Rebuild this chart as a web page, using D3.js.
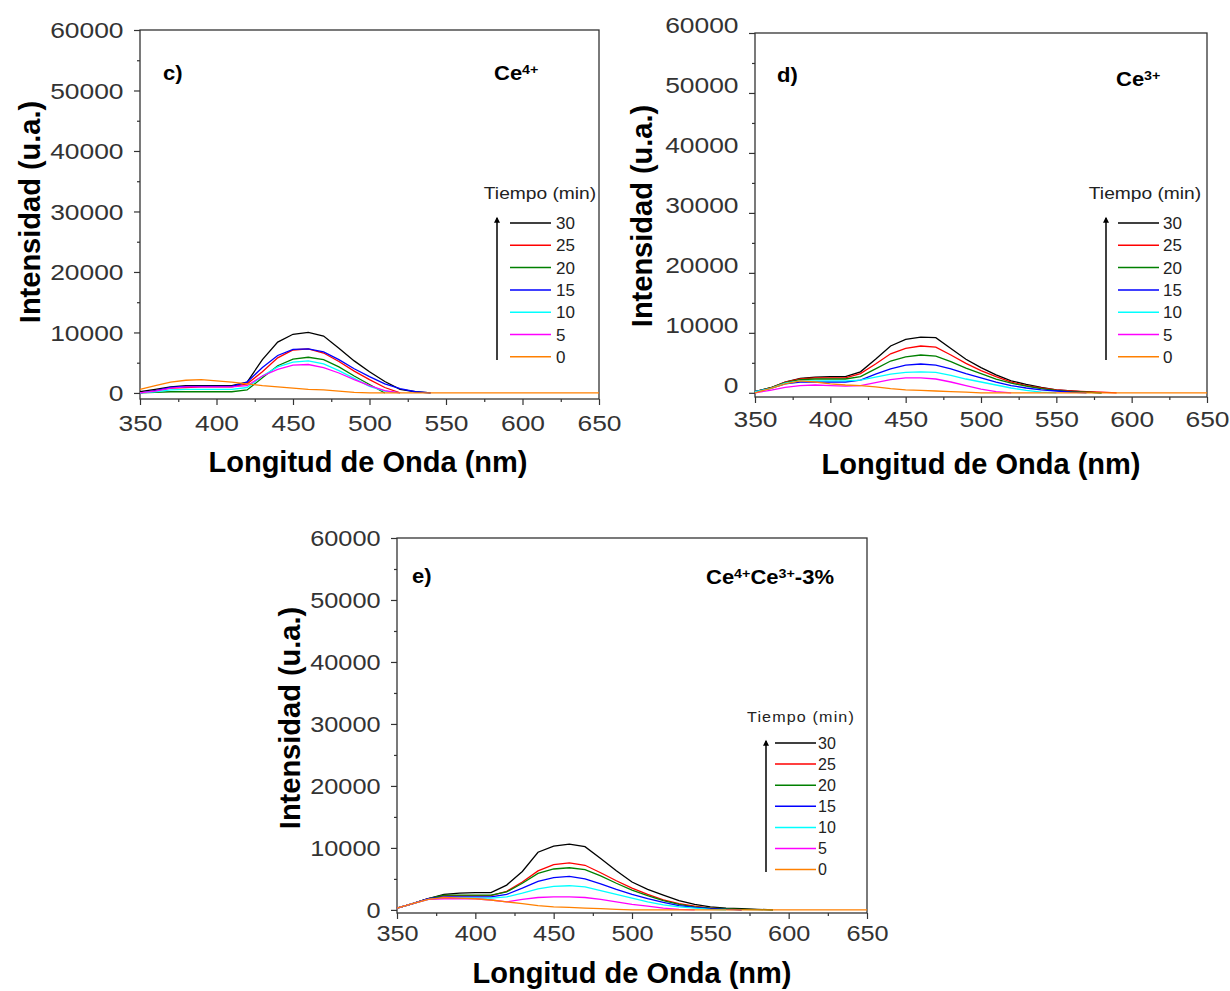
<!DOCTYPE html>
<html>
<head>
<meta charset="utf-8">
<script src="https://cdn.jsdelivr.net/npm/d3@7/dist/d3.min.js"></script>
<style>
  body { margin: 0; background: #fff; }
  text { font-family: "Liberation Sans", Arial, sans-serif; }
</style>
</head>
<body>
<svg id="chart"></svg>
<script>
const _ = null;

// longitud de onda (nm), comun a todas las curvas
const wavelength = [350,360,370,380,390,400,410,420,430,440,450,460,470,480,490,500,510,520,530,540,550,560,570,580,590,600,650];
const tiempos = ["30","25","20","15","10","5","0"];
const colores = ["#000000","#ff0000","#008000","#0000ff","#00ffff","#ff00ff","#ff8000"];
const xTicks = [350,400,450,500,550,600,650];
const xMinor = [375,425,475,525,575,625];
const yTicks = [0,10000,20000,30000,40000,50000,60000];
const yMinor = [5000,15000,25000,35000,45000,55000];

// c) Ce4+
const ce4_30 = [200,600,1000,1200,1200,1200,1200,1800,5500,8400,9700,10000,9400,7400,5300,3500,1900,600,200,0,_,_,_,_,_,_,_];
const ce4_25 = [0,400,800,900,1000,1000,1000,1500,3500,5800,7100,7300,6600,5200,3600,2200,900,0,_,_,_,_,_,_,_,_,_];
const ce4_20 = [0,100,200,200,200,200,200,500,2500,4500,5600,5900,5500,4300,2800,1400,0,_,_,_,_,_,_,_,_,_,_];
const ce4_15 = [0,400,900,1100,1100,1100,1100,1800,4200,6200,7200,7300,6800,5500,4000,2700,1500,700,200,0,_,_,_,_,_,_,_];
const ce4_10 = [0,200,500,600,600,600,600,900,2800,4300,5100,5300,4800,3700,2400,1100,300,0,_,_,_,_,_,_,_,_,_];
const ce4_5  = [0,300,800,1000,1000,1000,1000,1200,2800,3900,4600,4700,4200,3300,2200,1200,400,0,_,_,_,_,_,_,_,_,_];
const ce4_0  = [600,1200,1800,2100,2200,2000,1800,1500,1200,1000,800,600,500,300,100,0,0,0,0,0,0,0,0,0,0,0,0];

// d) Ce3+
const ce3_30 = [200,800,1800,2400,2600,2700,2700,3500,5600,7800,8900,9300,9200,7400,5600,4200,3000,2000,1400,900,500,300,100,0,_,_,_];
const ce3_25 = [200,800,1800,2300,2500,2500,2500,3200,4800,6500,7400,7800,7600,6300,4900,3700,2700,1800,1200,800,500,300,200,100,0,_,_];
const ce3_20 = [200,800,1700,2200,2300,2300,2300,2700,4000,5300,6000,6300,6100,5200,4100,3200,2300,1600,1100,700,400,200,100,0,_,_,_];
const ce3_15 = [200,700,1500,1800,1800,1800,1800,2100,3100,4000,4600,4800,4600,4000,3200,2500,1800,1200,800,500,300,100,0,_,_,_,_];
const ce3_10 = [200,700,1600,2000,2000,2000,2000,2100,2600,3100,3400,3500,3400,2900,2300,1800,1300,800,400,100,0,_,_,_,_,_,_];
const ce3_5  = [0,400,900,1200,1300,1200,1100,1200,1700,2200,2500,2500,2300,1800,1200,600,200,0,_,_,_,_,_,_,_,_,_];
const ce3_0  = [0,700,1500,2000,1800,1500,1300,1200,1000,700,500,400,300,200,100,0,0,0,0,0,0,0,0,0,0,0,0];

// e) Ce4+Ce3+-3%
const mix_30 = [300,1000,1800,2500,2700,2800,2800,4000,6200,9300,10300,10600,10200,8300,6300,4500,3300,2400,1500,900,500,300,200,100,0,_,_];
const mix_25 = [300,1000,1800,2300,2300,2300,2300,3000,4500,6300,7300,7600,7200,6000,4700,3500,2500,1600,1000,600,300,150,0,_,_,_,_];
const mix_20 = [300,1000,1800,2400,2400,2400,2400,2900,4300,5900,6600,6800,6500,5500,4300,3200,2300,1500,900,500,300,200,100,50,0,_,_];
const mix_15 = [300,1000,1800,2100,2100,2100,2100,2500,3500,4600,5200,5400,5000,4200,3300,2500,1800,1200,700,400,200,100,0,_,_,_,_];
const mix_10 = [300,1000,1700,1900,1900,1900,1900,2100,2700,3400,3800,3900,3700,3100,2500,1900,1300,800,500,300,100,0,_,_,_,_,_];
const mix_5  = [300,1000,1700,1800,1800,1800,1600,1300,1700,2000,2100,2100,2000,1700,1300,900,600,300,100,0,_,_,_,_,_,_,_];
const mix_0  = [300,1000,1700,2000,1900,1800,1600,1300,1000,700,500,400,300,200,100,0,0,0,0,0,0,0,0,0,0,0,0];

const width = 1230, height = 991;

const svg = d3.select("#chart")
    .attr("width", width)
    .attr("height", height)
    .style("background", "#fff");

svg.append("defs").append("marker")
    .attr("id", "flecha")
    .attr("viewBox", "0 0 10 10")
    .attr("refX", 8).attr("refY", 5)
    .attr("markerWidth", 9).attr("markerHeight", 6)
    .attr("markerUnits", "userSpaceOnUse")
    .attr("orient", "auto")
    .append("path")
    .attr("d", "M0,0 L10,5 L0,10 Z")
    .attr("fill", "#000");

// texto con estiramiento horizontal (la figura original esta algo ensanchada)
function stretched(g, x, y, sx) {
    return g.append("text").attr("transform", `translate(${x},${y}) scale(${sx},1)`);
}

const panels = [
    { left: 140, right: 599, top: 30, bottom: 399, yMin: -1000, ylabDy: 0, xlabY: 16, tsx: 1.2,
      series: [ce4_30, ce4_25, ce4_20, ce4_15, ce4_10, ce4_5, ce4_0],
      letter: "c)", letterX: 163, letterY: 80, ion: [["Ce", ""], ["4+", "sup"]], ionX: 494, ionY: 80,
      yTitleX: 40, yTitleY: 212, xTitleX: 368, xTitleY: 472,
      leg: { titleX: 540, titleY: 199, x1: 510, x2: 551, y0: 223, dy: 22.3, labX: 556, arrowX: 497, arrowY1: 360, arrowY2: 218, fs: 17, tfs: 16, tsx: 1.2, ls: 0 } },
    { left: 755, right: 1207, top: 33, bottom: 397, yMin: -700, ylabDy: -8, xlabY: 14, tsx: 1.2,
      series: [ce3_30, ce3_25, ce3_20, ce3_15, ce3_10, ce3_5, ce3_0],
      letter: "d)", letterX: 777, letterY: 82, ion: [["Ce", ""], ["3+", "sup"]], ionX: 1116, ionY: 86,
      yTitleX: 652, yTitleY: 216, xTitleX: 981, xTitleY: 474,
      leg: { titleX: 1145, titleY: 199, x1: 1118, x2: 1159, y0: 223, dy: 22.3, labX: 1163, arrowX: 1106, arrowY1: 360, arrowY2: 218, fs: 17, tfs: 16, tsx: 1.2, ls: 0 } },
    { left: 397, right: 867, top: 538, bottom: 913, yMin: -500, ylabDy: 0, xlabY: 12, tsx: 1.15,
      series: [mix_30, mix_25, mix_20, mix_15, mix_10, mix_5, mix_0],
      letter: "e)", letterX: 412, letterY: 583, ion: [["Ce", ""], ["4+", "sup"], ["Ce", ""], ["3+", "sup"], ["-3%", ""]], ionX: 706, ionY: 584,
      yTitleX: 300, yTitleY: 718, xTitleX: 632, xTitleY: 983,
      leg: { titleX: 801, titleY: 722, x1: 775, x2: 816, y0: 743, dy: 21.1, labX: 818, arrowX: 766, arrowY1: 872, arrowY2: 741, fs: 16, tfs: 14, tsx: 1.15, ls: 1 } }
];

function drawPanel(p) {
    const x = d3.scaleLinear().domain([350, 650]).range([p.left, p.right]);
    const y = d3.scaleLinear().domain([p.yMin, 60000]).range([p.bottom, p.top]);
    const g = svg.append("g");

    // marco
    g.append("rect")
        .attr("x", p.left).attr("y", p.top)
        .attr("width", p.right - p.left).attr("height", p.bottom - p.top)
        .attr("fill", "none").attr("stroke", "#333").attr("stroke-width", 1.3);

    // ejes
    const xAxis = g.append("g").attr("transform", `translate(0,${p.bottom})`)
        .call(d3.axisBottom(x).tickValues(xTicks).tickSize(6).tickSizeOuter(0).tickFormat(d3.format("d")));
    g.append("g").attr("transform", `translate(0,${p.bottom})`)
        .call(d3.axisBottom(x).tickValues(xMinor).tickSize(3).tickSizeOuter(0).tickFormat(""));
    const yAxis = g.append("g").attr("transform", `translate(${p.left},0)`)
        .call(d3.axisLeft(y).tickValues(yTicks).tickSize(6).tickSizeOuter(0).tickFormat(d3.format("d")));
    g.append("g").attr("transform", `translate(${p.left},0)`)
        .call(d3.axisLeft(y).tickValues(yMinor).tickSize(3).tickSizeOuter(0).tickFormat(""));

    g.selectAll(".domain").remove();
    g.selectAll(".tick line").attr("stroke", "#333").attr("stroke-width", 1.2);

    xAxis.selectAll("text")
        .attr("y", p.xlabY)
        .attr("transform", `scale(${p.tsx},1)`)
        .style("font-size", "22px").attr("fill", "#333");
    yAxis.selectAll("text")
        .attr("x", -15 / p.tsx * 1.1)
        .attr("dy", "0.35em")
        .attr("transform", `translate(0,${p.ylabDy}) scale(${p.tsx},1)`)
        .style("font-size", "22px").attr("fill", "#333");

    // curvas
    const line = d3.line()
        .defined(d => d[1] !== null)
        .x(d => x(d[0]))
        .y(d => y(d[1]));

    p.series.forEach((vals, i) => {
        g.append("path")
            .datum(wavelength.map((w, k) => [w, vals[k]]))
            .attr("d", line)
            .attr("fill", "none")
            .attr("stroke", colores[i])
            .attr("stroke-width", 1.3);
    });

    // titulos de ejes
    g.append("text")
        .attr("x", p.xTitleX).attr("y", p.xTitleY)
        .attr("text-anchor", "middle")
        .style("font-size", "29px").style("font-weight", "bold")
        .text("Longitud de Onda (nm)");
    g.append("text")
        .attr("transform", `translate(${p.yTitleX},${p.yTitleY}) rotate(-90)`)
        .attr("text-anchor", "middle")
        .style("font-size", "29px").style("font-weight", "bold")
        .text("Intensidad (u.a.)");

    // etiquetas del panel
    stretched(g, p.letterX, p.letterY, 1.1)
        .style("font-size", "20px").style("font-weight", "bold")
        .text(p.letter);
    const ion = stretched(g, p.ionX, p.ionY, 1.1)
        .style("font-size", "20px").style("font-weight", "bold");
    p.ion.forEach(([t, kind]) => {
        ion.append("tspan")
            .attr("baseline-shift", kind === "sup" ? "45%" : "0%")
            .style("font-size", kind === "sup" ? "13px" : "20px")
            .text(t);
    });

    // leyenda
    const L = p.leg;
    stretched(g, L.titleX, L.titleY, L.tsx)
        .attr("text-anchor", "middle")
        .style("font-size", L.tfs + "px")
        .style("letter-spacing", L.ls + "px")
        .attr("fill", "#222")
        .text("Tiempo (min)");
    tiempos.forEach((t, i) => {
        const yy = L.y0 + i * L.dy;
        g.append("line")
            .attr("x1", L.x1).attr("x2", L.x2)
            .attr("y1", yy).attr("y2", yy)
            .attr("stroke", colores[i]).attr("stroke-width", 1.5);
        g.append("text")
            .attr("x", L.labX).attr("y", yy)
            .attr("dy", "0.36em")
            .style("font-size", L.fs + "px")
            .attr("fill", "#222")
            .text(t);
    });
    g.append("line")
        .attr("x1", L.arrowX).attr("x2", L.arrowX)
        .attr("y1", L.arrowY1).attr("y2", L.arrowY2)
        .attr("stroke", "#000").attr("stroke-width", 1.5)
        .attr("marker-end", "url(#flecha)");
}

panels.forEach(drawPanel);
</script>
</body>
</html>
